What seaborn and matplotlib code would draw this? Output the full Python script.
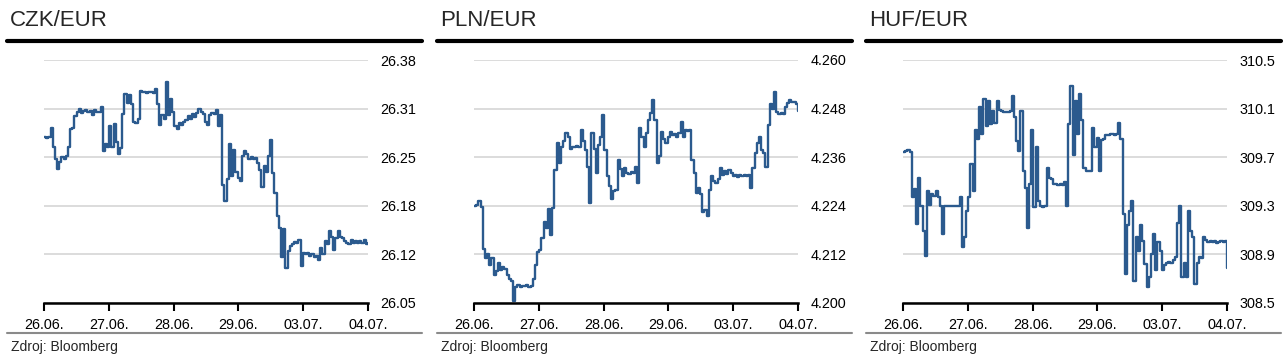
import numpy as np
import matplotlib
matplotlib.use('Agg')
import matplotlib.pyplot as plt
from matplotlib.lines import Line2D
import seaborn as sns

# --- data ---
dates = ['26.06.', '27.06.', '28.06.', '29.06.', '03.07.', '04.07.']

czk = [26.275, 26.274, 26.276, 26.288, 26.262, 26.245, 26.232, 26.242, 26.248, 26.246,
       26.250, 26.262, 26.286, 26.287, 26.304, 26.310, 26.313, 26.308, 26.311, 26.312,
       26.309, 26.311, 26.305, 26.312, 26.310, 26.309, 26.316, 26.257, 26.266, 26.262,
       26.290, 26.262, 26.293, 26.268, 26.252, 26.260, 26.306, 26.334, 26.322, 26.332,
       26.320, 26.296, 26.295, 26.300, 26.338, 26.336, 26.336, 26.335, 26.336, 26.336,
       26.335, 26.341, 26.320, 26.292, 26.305, 26.300, 26.350, 26.305, 26.327, 26.310,
       26.290, 26.286, 26.294, 26.292, 26.296, 26.298, 26.304, 26.300, 26.306, 26.303,
       26.308, 26.314, 26.310, 26.306, 26.296, 26.292, 26.305, 26.308, 26.306, 26.312,
       26.290, 26.305, 26.210, 26.188, 26.218, 26.266, 26.222, 26.258, 26.228, 26.220,
       26.216, 26.250, 26.257, 26.252, 26.246, 26.248, 26.245, 26.247, 26.240, 26.230,
       26.208, 26.236, 26.228, 26.250, 26.272, 26.226, 26.200, 26.168, 26.152, 26.112,
       26.150, 26.098, 26.120, 26.128, 26.130, 26.133, 26.131, 26.136, 26.100, 26.118,
       26.116, 26.118, 26.114, 26.117, 26.112, 26.114, 26.108, 26.125, 26.116, 26.134,
       26.130, 26.148, 26.140, 26.122, 26.138, 26.148, 26.140, 26.138, 26.134, 26.132,
       26.130, 26.135, 26.131, 26.134, 26.132, 26.134, 26.131, 26.135, 26.130, 26.132]

pln = [4.2240, 4.2242, 4.2252, 4.2236, 4.2134, 4.2110, 4.2120, 4.2095, 4.2110, 4.2070,
       4.2080, 4.2098, 4.2082, 4.2090, 4.2085, 4.2070, 4.2060, 4.2055, 4.2004, 4.2040,
       4.2044, 4.2040, 4.2043, 4.2041, 4.2045, 4.2040, 4.2043, 4.2060, 4.2093, 4.2126,
       4.2130, 4.2160, 4.2199, 4.2185, 4.2232, 4.2167, 4.2235, 4.2329, 4.2394, 4.2346,
       4.2386, 4.2400, 4.2419, 4.2410, 4.2380, 4.2386, 4.2384, 4.2387, 4.2385, 4.2427,
       4.2400, 4.2378, 4.2337, 4.2248, 4.2419, 4.2380, 4.2321, 4.2390, 4.2411, 4.2463,
       4.2378, 4.2313, 4.2289, 4.2256, 4.2276, 4.2280, 4.2354, 4.2330, 4.2313, 4.2333,
       4.2321, 4.2318, 4.2323, 4.2320, 4.2337, 4.2297, 4.2431, 4.2411, 4.2386, 4.2420,
       4.2451, 4.2470, 4.2500, 4.2451, 4.2346, 4.2362, 4.2423, 4.2405, 4.2394, 4.2410,
       4.2423, 4.2415, 4.2418, 4.2410, 4.2420, 4.2447, 4.2411, 4.2427, 4.2425, 4.2427,
       4.2354, 4.2321, 4.2272, 4.2285, 4.2270, 4.2224, 4.2230, 4.2215, 4.2280, 4.2313,
       4.2300, 4.2297, 4.2305, 4.2333, 4.2315, 4.2325, 4.2318, 4.2329, 4.2320, 4.2313,
       4.2316, 4.2312, 4.2315, 4.2313, 4.2317, 4.2314, 4.2316, 4.2285, 4.2333, 4.2370,
       4.2394, 4.2411, 4.2378, 4.2370, 4.2337, 4.2440, 4.2492, 4.2480, 4.2520, 4.2472,
       4.2467, 4.2470, 4.2467, 4.2484, 4.2495, 4.2500, 4.2497, 4.2496, 4.2492, 4.2475]

huf = [309.74, 309.75, 309.76, 309.74, 309.37, 309.44, 309.15, 309.53, 309.30, 309.09,
       308.89, 309.42, 309.31, 309.40, 309.38, 309.42, 309.37, 309.30, 309.07, 309.30,
       309.30, 309.30, 309.30, 309.30, 309.30, 309.30, 309.37, 308.96, 309.04, 309.26,
       309.37, 309.64, 309.42, 309.92, 309.85, 310.11, 309.89, 310.18, 309.96, 310.16,
       309.97, 310.08, 309.98, 310.16, 310.09, 310.08, 310.07, 310.07, 310.07, 310.08,
       310.20, 310.03, 309.83, 309.75, 310.08, 309.59, 309.45, 309.12, 309.48, 309.92,
       309.29, 309.78, 309.34, 309.30, 309.29, 309.30, 309.61, 309.53, 309.52, 309.48,
       309.48, 309.47, 309.48, 309.47, 309.50, 309.30, 309.97, 310.29, 309.72, 310.16,
       309.89, 310.22, 310.01, 309.61, 309.59, 309.59, 309.59, 309.94, 309.78, 309.86,
       309.59, 309.84, 309.85, 309.88, 309.88, 309.89, 309.89, 309.88, 309.89, 309.98,
       309.85, 309.23, 308.74, 309.14, 309.26, 309.34, 308.68, 309.04, 308.93, 309.14,
       309.01, 308.82, 308.63, 308.71, 308.90, 309.07, 308.77, 309.00, 308.93, 308.77,
       308.81, 308.83, 308.84, 308.83, 308.85, 308.88, 309.16, 309.30, 308.71, 308.83,
       308.71, 309.26, 309.09, 309.04, 308.66, 308.83, 308.88, 308.87, 309.04, 309.02,
       309.00, 309.01, 309.00, 309.01, 308.99, 309.00, 309.01, 309.00, 309.01, 308.79]

titles = ['CZK/EUR', 'PLN/EUR', 'HUF/EUR']
series = [czk, pln, huf]
y_ranges = [(26.05, 26.38), (4.200, 4.260), (308.5, 310.5)]
y_formats = ['{:.2f}', '{:.3f}', '{:.1f}']
source = 'Zdroj: Bloomberg'

# --- style ---
sns.set_style('white')
plt.rcParams['font.family'] = ['Liberation Sans', 'DejaVu Sans']
line_color = '#2b5a8e'

W, H = 1286, 360
fig = plt.figure(figsize=(W / 100, H / 100), dpi=100)
offsets = [0, 430, 859]

for k in range(3):
    ox = offsets[k]
    vals = series[k]
    lo, hi = y_ranges[k]
    t = np.linspace(0, len(dates) - 1, len(vals))

    ax = fig.add_axes([(44 + ox) / W, 1 - 303 / H, 324 / W, 243 / H])
    sns.lineplot(x=t, y=vals, ax=ax, color=line_color, lw=1.7,
                 drawstyle='steps-post', zorder=3)
    ax.set_xlim(0, len(dates) - 1)
    ax.set_ylim(lo, hi)

    yt = np.linspace(lo, hi, 6)
    ax.set_yticks(yt)
    ax.set_yticklabels([y_formats[k].format(v) for v in yt])
    ax.yaxis.tick_right()
    ax.tick_params(axis='y', length=0, pad=9, labelsize=10.4, colors='black')

    ax.set_xticks(range(len(dates)))
    ax.set_xticklabels(dates)
    ax.tick_params(axis='x', length=6, width=1.5, direction='out', pad=5,
                   labelsize=10.4, colors='black', bottom=True)

    ax.grid(axis='y', color='#d9d9d9', lw=1.3)
    ax.grid(axis='x', visible=False)
    ax.set_axisbelow(True)
    for s in ['top', 'left', 'right']:
        ax.spines[s].set_visible(False)
    ax.spines['bottom'].set_color('black')
    ax.spines['bottom'].set_linewidth(1.8)
    ax.spines['bottom'].set_zorder(4)

    # title, rules and source
    fig.text((10 + ox) / W, 1 - 21 / H, titles[k], fontsize=16,
             va='center', ha='left')
    fig.add_artist(Line2D([(7 + ox) / W, (422 + ox) / W], [1 - 40.7 / H] * 2,
                          color='black', lw=3))
    fig.add_artist(Line2D([(7 + ox) / W, (422 + ox) / W], [1 - 332.5 / H] * 2,
                          color='#8a8a8a', lw=1.5))
    fig.text((11 + ox) / W, 1 - 347 / H, source, fontsize=10,
             va='center', ha='left')

fig.savefig('out.png', dpi=100)
